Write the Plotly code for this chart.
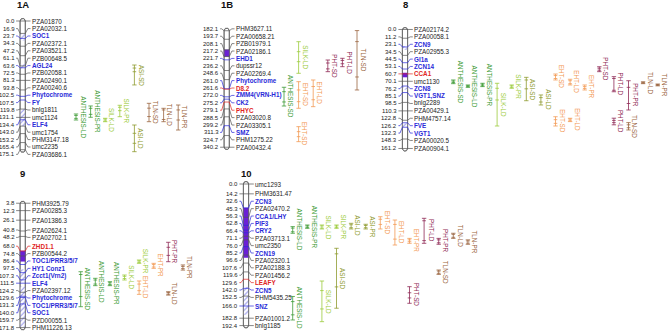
import math
import plotly.graph_objects as go

# ---------------- data ----------------
chrom_ids = ["1A", "1B", "8", "9", "10"]

pos_1A = [0.0, 16.9, 23.7, 34.3, 47.2, 61.1, 63.6, 72.5, 81.3, 93.8, 102.5, 107.5,
          119.8, 131.1, 134.4, 143.0, 153.2, 165.4, 175.1]
mk_1A = ["PZA01870", "PZA02032.1", "SOC1", "PZA02372.1", "PZA03521.1", "PZB00648.5",
         "AGL24", "PZB02058.1", "PZA02490.1", "PZA00240.6", "Phytochrome", "FY",
         "bnlg1811", "umc1124", "ELF4", "umc1754", "PHM3147.18", "umc2235", "PZA03686.1"]
blue_1A = ["SOC1", "AGL24", "Phytochrome", "FY", "ELF4"]
red_1A = []
solid_1A = []
hatch_1A = [(17.5, 26.5), (58.5, 64.5), (119.8, 143.0)]

pos_1B = [182.1, 193.7, 208.1, 217.2, 221.7, 236.2, 248.6, 261.0, 261.6, 272.0, 275.2,
          279.1, 288.5, 299.2, 311.3, 324.7, 340.2]
mk_1B = ["PHM3627.11", "PZA00658.21", "PZB01979.1", "PZA02186.1", "EHD1", "dupssr12",
         "PZA02269.4", "Phytochrome", "D8.2", "ZMM4(VRN-H1)", "CK2", "PHYC", "PZA03020.8",
         "PZA03305.1", "SMZ", "PHM1275.22", "PZA00432.4"]
blue_1B = ["EHD1", "Phytochrome", "ZMM4(VRN-H1)", "CK2", "SMZ"]
red_1B = ["D8.2", "PHYC"]
solid_1B = [(208.1, 217.2)]
hatch_1B = []

pos_8 = [0.0, 11.2, 23.1, 34.5, 44.5, 53.1, 60.7, 70.1, 76.2, 85.1, 98.5, 110.3, 122.8,
         126.2, 132.3, 148.3, 161.2]
mk_8 = ["PZA02174.2", "PZA00058.1", "ZCN9", "PZA02955.3", "GI1a", "ZCN14", "CCA1",
        "umc1130", "ZCN8", "VGT1,SNZ", "bnlg2289", "PZA00429.1", "PHM4757.14", "FVE",
        "VGT1", "PZA00020.5", "PZA00904.1"]
blue_8 = ["ZCN9", "GI1a", "ZCN14", "ZCN8", "VGT1,SNZ", "FVE", "VGT1"]
red_8 = ["CCA1"]
solid_8 = [(58.5, 64.0)]
hatch_8 = [(22.0, 27.0), (77.0, 81.0), (127.0, 132.3)]

pos_9 = [3.8, 12.3, 26.1, 40.8, 48.2, 68.0, 74.8, 86.4, 97.5, 107.3, 111.5, 124.2, 129.6,
         131.3, 140.0, 159.7, 171.8]
mk_9 = ["PHM3925.79", "PZA00285.3", "PZA01386.3", "PZA02624.1", "PZA02702.1", "ZHD1.1",
        "PZB00544.2", "TOC1/PRR3/5/7", "HY1 Conz1", "Zcct1(Vrn2)", "ELF4", "PZA02397.12",
        "Phytochrome", "TOC1/PRR3/5/7", "SOC1", "PZD00055.1", "PHM11226.13"]
blue_9 = ["TOC1/PRR3/5/7", "HY1 Conz1", "Zcct1(Vrn2)", "ELF4", "Phytochrome", "SOC1"]
red_9 = ["ZHD1.1"]
solid_9 = [(68.0, 82.0)]
hatch_9 = [(93.0, 110.0), (116.0, 171.8)]

pos_10 = [0.0, 14.2, 32.6, 45.3, 56.3, 62.8, 66.4, 71.1, 76.0, 85.2, 96.6, 107.6, 119.6,
          129.6, 142.0, 152.5, 166.0, 182.8, 192.4]
mk_10 = ["umc1293", "PHM3631.47", "ZCN3", "PZA02470.2", "CCA1/LHY", "PIF3", "CRY2",
         "PZA03713.1", "umc2350", "ZCN19", "PZA02320.1", "PZA02188.3", "PZA01456.2",
         "LEAFY", "ZCN5", "PHM5435.25", "SNZ", "PZA01001.2", "bnlg1185"]
blue_10 = ["ZCN3", "CCA1/LHY", "PIF3", "CRY2", "ZCN19", "ZCN5", "SNZ"]
red_10 = ["LEAFY"]
solid_10 = [(32.6, 100.0)]
hatch_10 = [(140.0, 178.0)]

# QTL intervals (cM): trait, outer low/high, inner low/high
q_1A_trait = ["ANTHESIS-LD", "ANTHESIS-PR", "SILK-LD", "SILK-PR", "ASI-SD", "ASI-LD",
              "TLN-SD", "TLN-LD", "TLN-PR"]
q_1A_lo = [126.5, 115.6, 132.4, 114.7, 59.9, 141.5, 112.0, 118.8, 114.3]
q_1A_hi = [134.7, 131.0, 137.0, 130.2, 87.0, 177.8, 137.0, 137.0, 148.3]
q_1A_ilo = [128.5, 118.8, 133.5, 117.4, 64.0, 152.8, 118.6, 121.0, 121.0]
q_1A_ihi = [132.5, 127.0, 136.0, 122.0, 69.0, 166.4, 130.0, 134.0, 134.7]

q_1B_trait = ["ANTHESIS-SD", "SILK-LD", "EHT-SD", "EHT-SD", "EHT-LD", "PHT-SD",
              "PHT-LD", "TLN-SD"]
q_1B_lo = [259.0, 197.0, 251.4, 312.6, 249.1, 221.9, 219.6, 181.9]
q_1B_hi = [284.5, 240.0, 287.6, 333.0, 285.4, 237.8, 231.0, 262.7]
q_1B_ilo = [265.0, 210.6, 262.7, 319.4, 258.0, 226.0, 222.5, 196.9]
q_1B_ihi = [279.0, 224.2, 278.6, 326.2, 276.0, 234.0, 227.0, 245.0]

q_8_trait = ["ANTHESIS-SD", "ANTHESIS-LD", "ANTHESIS-PR", "SILK-LD", "SILK-PR", "ASI-SD",
             "ASI-LD", "EHT-SD", "EHT-SD", "EHT-LD", "EHT-LD", "EHT-PR", "PHT-SD",
             "PHT-LD", "PHT-LD", "PHT-PR", "TLN-SD", "TLN-LD", "TLN-PR"]
q_8_lo = [68.0, 74.8, 72.5, 72.5, 74.8, 64.4, 88.4, 59.9, 118.0, 67.0, 120.1, 74.8, 50.0,
          63.5, 120.0, 69.0, 126.0, 70.5, 73.5]
q_8_hi = [73.0, 78.0, 77.0, 130.6, 79.3, 96.2, 102.0, 68.0, 130.6, 74.8, 124.6, 81.6, 56.7,
          84.0, 129.0, 108.8, 136.0, 73.0, 76.0]
q_8_ilo = [69.5, 75.8, 73.8, 79.3, 76.0, 68.0, 92.0, 62.0, 122.0, 69.0, 121.2, 77.0, 52.0,
           66.0, 123.0, 78.0, 129.0, 71.2, 74.2]
q_8_ihi = [71.5, 77.0, 75.8, 95.2, 78.0, 80.0, 98.0, 66.0, 127.0, 73.0, 123.5, 79.5, 54.7,
           82.0, 126.0, 100.0, 133.0, 72.3, 75.3]

q_9_trait = ["ANTHESIS-SD", "ANTHESIS-LD", "ANTHESIS-PR", "SILK-LD", "SILK-PR", "EHT-LD",
             "EHT-PR", "PHT-PR", "TLN-LD", "TLN-PR"]
q_9_lo = [96.2, 105.2, 109.8, 100.7, 80.3, 108.8, 84.8, 56.2, 123.4, 87.0]
q_9_hi = [143.8, 115.2, 115.2, 107.5, 84.8, 127.0, 91.6, 82.6, 128.0, 94.0]
q_9_ilo = [100.0, 107.5, 111.3, 102.5, 81.5, 113.0, 86.5, 63.0, 124.6, 89.0]
q_9_ihi = [130.0, 113.0, 113.8, 105.5, 83.5, 122.0, 89.8, 74.0, 126.8, 92.0]

q_10_trait = ["ANTHESIS-LD", "ANTHESIS-PR", "SILK-LD", "SILK-PR", "ASI-LD", "ASI-PR",
              "EHT-SD", "EHT-LD", "EHT-PR", "PHT-LD", "PHT-PR", "TLN-LD", "TLN-PR",
              "ASI-SD", "SILK-LD", "ANTHESIS-LD", "TLN-SD", "PHT-SD"]
q_10_lo = [58.0, 55.8, 55.8, 55.8, 53.5, 54.8, 44.5, 49.0, 74.0, 46.7, 74.0, 67.0, 76.0,
           87.5, 132.0, 153.0, 117.0, 139.7]
q_10_hi = [67.0, 60.3, 61.2, 60.3, 61.2, 61.2, 61.2, 83.0, 80.7, 80.7, 82.0, 74.0, 82.0,
           169.0, 187.3, 185.0, 123.0, 162.3]
q_10_ilo = [60.0, 57.0, 57.0, 57.0, 55.5, 56.5, 48.0, 55.0, 76.0, 50.0, 76.0, 68.5, 77.5,
            95.0, 145.0, 160.0, 118.5, 148.0]
q_10_ihi = [65.0, 59.0, 60.0, 59.0, 59.5, 59.5, 55.0, 75.0, 78.5, 77.0, 80.0, 72.5, 80.5,
            140.0, 170.0, 178.0, 121.5, 155.0]

# ---------------- layout (pixels) ----------------
W, H = 669, 331
S = 0.735          # pixels per cM
GAP_PX = 7.4       # min vertical spacing of marker labels
HW = 2.6           # half width of chromosome bar
COL = 14.6         # QTL column spacing

layout_info = {
    "1A": dict(x=22.7, origin=21.0, title_y=5, q0=76.0,
               slots=[0, 1, 2, 3, 4, 4, 5, 6, 7]),
    "1B": dict(x=226.7, origin=-103.1, title_y=5, q0=284.0,
               slots=[0, 1, 1, 1, 2, 3, 4, 5]),
    "8": dict(x=405.0, origin=30.0, title_y=5, q0=453.3,
              slots=[0, 1, 2, 3, 4, 5, 6, 7, 7, 8, 8, 9, 10, 11, 11, 12, 12, 13, 14]),
    "9": dict(x=22.7, origin=201.0, title_y=174, q0=80.7,
              slots=[0, 1, 2, 3, 4, 4, 5, 6, 6, 7]),
    "10": dict(x=246.0, origin=184.0, title_y=174, q0=292.7,
               slots=[0, 1, 2, 3, 4, 5, 6, 7, 8, 9, 10, 11, 12, 3, 2, 0, 10, 8]),
}

data = {
    "1A": (pos_1A, mk_1A, blue_1A, red_1A, solid_1A, hatch_1A,
           q_1A_trait, q_1A_lo, q_1A_hi, q_1A_ilo, q_1A_ihi),
    "1B": (pos_1B, mk_1B, blue_1B, red_1B, solid_1B, hatch_1B,
           q_1B_trait, q_1B_lo, q_1B_hi, q_1B_ilo, q_1B_ihi),
    "8": (pos_8, mk_8, blue_8, red_8, solid_8, hatch_8,
          q_8_trait, q_8_lo, q_8_hi, q_8_ilo, q_8_ihi),
    "9": (pos_9, mk_9, blue_9, red_9, solid_9, hatch_9,
          q_9_trait, q_9_lo, q_9_hi, q_9_ilo, q_9_ihi),
    "10": (pos_10, mk_10, blue_10, red_10, solid_10, hatch_10,
           q_10_trait, q_10_lo, q_10_hi, q_10_ilo, q_10_ihi),
}

trait_colors = {
    "ANTHESIS": "#3d9b35",
    "SILK": "#9ccc3c",
    "ASI": "#8e9a2e",
    "EHT": "#f39a55",
    "PHT": "#8f2a55",
    "TLN": "#9a6440",
}
BLUE = "#2a2ad8"
RED = "#e02424"
PURPLE = "#6a1fd6"
LINE_GRAY = "#555555"
FONT = "Liberation Sans, Arial, sans-serif"
FS = 6.3
FS_NUM = 6.0


def spread(pos, gap):
    clusters = []
    for p in pos:
        clusters.append([p, [p]])
        while len(clusters) > 1:
            a, b = clusters[-2], clusters[-1]
            if a[0] + len(a[1]) * gap > b[0] + 1e-9:
                d = a[1] + b[1]
                start = sum(v - i * gap for i, v in enumerate(d)) / len(d)
                clusters[-2:] = [[start, d]]
            else:
                break
    out = []
    for start, d in clusters:
        out += [start + i * gap for i in range(len(d))]
    return out


fig = go.Figure()
annotations = []
axes = {}

for k, cid in enumerate(chrom_ids):
    info = layout_info[cid]
    (pos, names, blues, reds, solids, hatches,
     qt, qlo, qhi, qilo, qihi) = data[cid]
    ax = "y" if k == 0 else "y%d" % (k + 1)
    axname = "yaxis" if k == 0 else "yaxis%d" % (k + 1)
    o = info["origin"]
    ycfg = dict(range=[(H - o) / S, -o / S], domain=[0, 1], visible=False,
                fixedrange=True, anchor="x")
    if k > 0:
        ycfg["overlaying"] = "y"
    axes[axname] = ycfg
    xc = info["x"]
    top, bot = pos[0], pos[-1]
    r = HW / S

    # chromosome outline path
    xs, ys = [], []
    n = 14
    for i in range(n + 1):
        th = math.pi * i / n
        xs.append(xc - HW * math.cos(th))
        ys.append(top - r * math.sin(th))
    for i in range(n + 1):
        th = math.pi * i / n
        xs.append(xc + HW * math.cos(th))
        ys.append(bot + r * math.sin(th))
    xs.append(xs[0]); ys.append(ys[0])
    fig.add_trace(go.Scatter(x=xs, y=ys, xaxis="x", yaxis=ax, mode="lines",
                             fill="toself", fillcolor="white",
                             line=dict(color="#666666", width=0.8), hoverinfo="skip"))
    # solid and hatched regions
    for lo, hi in solids:
        fig.add_trace(go.Scatter(x=[xc - HW, xc + HW, xc + HW, xc - HW, xc - HW],
                                 y=[lo, lo, hi, hi, lo], xaxis="x", yaxis=ax,
                                 mode="lines", fill="toself", fillcolor=PURPLE,
                                 line=dict(color=PURPLE, width=0.5), hoverinfo="skip"))
    for lo, hi in hatches:
        fig.add_trace(go.Scatter(x=[xc - HW, xc + HW, xc + HW, xc - HW, xc - HW],
                                 y=[lo, lo, hi, hi, lo], xaxis="x", yaxis=ax,
                                 mode="lines", fill="toself",
                                 fillpattern=dict(shape="/", fgcolor=BLUE, bgcolor="white",
                                                  size=3.5, solidity=0.3),
                                 line=dict(width=0), hoverinfo="skip"))
    # outline again on top
    fig.add_trace(go.Scatter(x=xs, y=ys, xaxis="x", yaxis=ax, mode="lines",
                             line=dict(color="#666666", width=0.8), hoverinfo="skip"))

    # marker connectors and labels
    lab = spread(pos, GAP_PX / S)
    groups = {}
    for p, ly, nm in zip(pos, lab, names):
        col = BLUE if nm in blues else (RED if nm in reds else LINE_GRAY)
        g = groups.setdefault(col, ([], []))
        g[0].extend([xc - 6.6, xc - 5.0, xc - HW, xc + HW, xc + 5.2, xc + 7.8, None])
        g[1].extend([ly, ly, p, p, ly, ly, None])
        annotations.append(dict(x=xc - 6.9, y=ly, xref="x", yref=ax, text="%.1f" % p,
                                showarrow=False, xanchor="right", yanchor="middle",
                                font=dict(family=FONT, size=FS_NUM, color="#222222"),
                                borderpad=0))
        if col == LINE_GRAY:
            txt, tc = nm, "#222222"
        else:
            txt, tc = "<b>%s</b>" % nm, col
        annotations.append(dict(x=xc + 8.4, y=ly, xref="x", yref=ax, text=txt,
                                showarrow=False, xanchor="left", yanchor="middle",
                                font=dict(family=FONT, size=FS, color=tc),
                                borderpad=0))
    for col, (gx, gy) in groups.items():
        fig.add_trace(go.Scatter(x=gx, y=gy, xaxis="x", yaxis=ax, mode="lines",
                                 line=dict(color=col, width=0.7), hoverinfo="skip"))

    # title
    annotations.append(dict(x=xc, y=1 - info["title_y"] / H, xref="x", yref="paper",
                            text="<b>%s</b>" % cid, showarrow=False,
                            xanchor="center", yanchor="middle",
                            font=dict(family=FONT, size=9.5, color="#111111")))

    # QTLs
    qgroups = {}
    for t, lo, hi, ilo, ihi, slot in zip(qt, qlo, qhi, qilo, qihi, info["slots"]):
        col = trait_colors[t.split("-")[0]]
        qx = info["q0"] + slot * COL
        g = qgroups.setdefault(col, ([], []))
        g[0].extend([qx, qx, None,
                     qx - 2.2, qx + 2.2, None, qx - 2.2, qx + 2.2, None,
                     qx - 1.8, qx + 1.8, None, qx - 1.8, qx + 1.8, None])
        g[1].extend([lo, hi, None, lo, lo, None, hi, hi, None,
                     ilo, ilo, None, ihi, ihi, None])
        annotations.append(dict(x=qx + 2.2, y=(lo + hi) / 2, xref="x", yref=ax, text=t,
                                showarrow=False, textangle=90, xanchor="left",
                                yanchor="middle",
                                font=dict(family=FONT, size=FS, color=col),
                                borderpad=0))
    for col, (gx, gy) in qgroups.items():
        fig.add_trace(go.Scatter(x=gx, y=gy, xaxis="x", yaxis=ax, mode="lines",
                                 line=dict(color=col, width=0.8), hoverinfo="skip"))

fig.update_layout(
    width=W, height=H, margin=dict(l=0, r=0, t=0, b=0),
    paper_bgcolor="white", plot_bgcolor="white", showlegend=False,
    xaxis=dict(range=[0, W], domain=[0, 1], visible=False, fixedrange=True),
    annotations=annotations,
    **axes,
)
fig.write_html("out.html", config={"displayModeBar": False},
               post_script="document.body.style.margin='0';"
                           "document.body.style.overflow='hidden';")
